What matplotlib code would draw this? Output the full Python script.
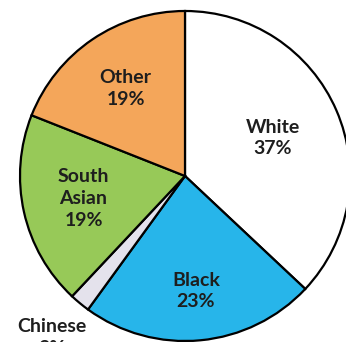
import numpy as np
import matplotlib.pyplot as plt

labels = ["White", "Black", "Chinese", "South\nAsian", "Other"]
shares = [37, 23, 2, 19, 19]
colors = ["#ffffff", "#27b5ea", "#e4e2ec", "#97c958", "#f4a65a"]
# how far from the centre each label sits (fraction of radius)
label_r = [0.58, 0.70, 1.27, 0.63, 0.64]

W, H = 346, 342
fig = plt.figure(figsize=(W / 100, H / 100), dpi=100)
cx, cy, R = 185, 166, 165
ax = fig.add_axes([(cx - R) / W, (cy - R) / H, 2 * R / W, 2 * R / H])

wedges, _ = ax.pie(shares, colors=colors, startangle=90, counterclock=False,
                   wedgeprops=dict(edgecolor="black", linewidth=1.6))
ax.set_xlim(-1, 1)
ax.set_ylim(-1, 1)
ax.set_aspect("auto")
ax.axis("off")

start = 90.0
for lab, val, r in zip(labels, shares, label_r):
    mid = np.radians(start - val * 3.6 / 2)
    start -= val * 3.6
    ax.text(r * np.cos(mid), r * np.sin(mid), f"{lab}\n{val}%",
            ha="center", va="center", fontsize=14, fontweight="bold",
            family="Lato", color="#1e1e1e", linespacing=1.35, clip_on=False)

fig.savefig("out.png", dpi=100)
